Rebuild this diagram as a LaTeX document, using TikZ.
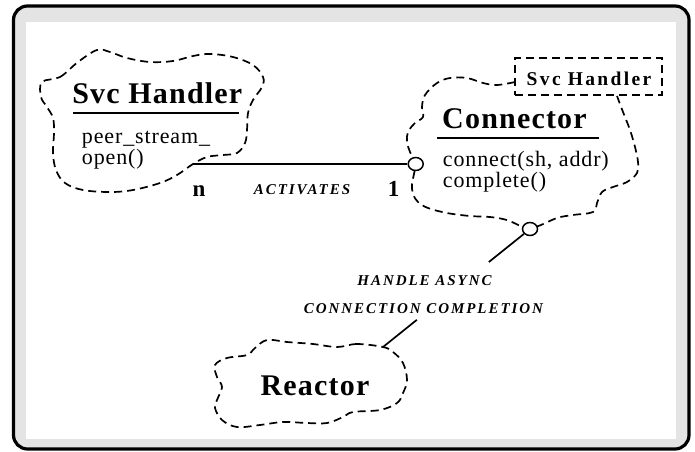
\documentclass[tikz,border=0pt]{standalone}
\usepackage{fontspec}
\setmainfont{Liberation Serif}
\newfontfamily\wideA[LetterSpace=4.0]{Liberation Serif}
\newfontfamily\wideB[LetterSpace=12.0]{Liberation Serif}
\newfontfamily\wideC[LetterSpace=13.0]{Liberation Serif}
\newfontfamily\wideD[LetterSpace=4.0]{Liberation Serif}
\usetikzlibrary{shapes.geometric,calc}
\definecolor{framegray}{RGB}{228,228,228}
\tikzset{
  cloudline/.style={line width=1.7pt, dash pattern=on 8pt off 5pt, line join=round},
  link/.style={line width=1.7pt},
  rule/.style={line width=1.9pt},
  port/.style={ellipse, draw, fill=white, line width=1.5pt, minimum width=15pt, minimum height=13pt, inner sep=0pt},
  titletext/.style={inner sep=0pt, font=\wideA\bfseries\fontsize{30}{30}\selectfont},
  boxtitle/.style={inner sep=0pt, font=\wideB\bfseries\fontsize{19.5}{20}\selectfont},
  member/.style={inner sep=0pt, anchor=base west, font=\wideD\fontsize{22}{20}\selectfont},
  mult/.style={inner sep=0pt, anchor=base, font=\bfseries\fontsize{23}{23}\selectfont},
  assoc/.style={inner sep=0pt, anchor=base, font=\wideC\bfseries\itshape\fontsize{15}{15}\selectfont},
  smallbox/.style={draw, line width=1.7pt, dash pattern=on 8pt off 5pt, minimum width=147pt, minimum height=37pt, inner sep=0pt}
}
\begin{document}
\begin{tikzpicture}[x=1pt,y=-1pt]
\useasboundingbox (0,0) rectangle (695,451);
% frame
\draw[line width=3.2pt, fill=framegray, rounded corners=14pt] (13.5,6) rectangle (689,449);
\fill[white] (26,22) rectangle (676,439);

% ports on the clouds
\coordinate (sh-port) at (193,164);
\coordinate (re-port) at (383,347);

% Svc Handler class cloud
\draw[cloudline] plot[smooth cycle, tension=0.6] coordinates {
  (42,82) (60,77) (78,62) (97,50) (110,52) (127,58) (150,62) (173,61)
  (193,56) (210,54) (233,57) (253,65) (263,77) (262,87) (253,100)
  (248,113) (247,130) (245,143) (237,153) (223,155) (207,157) (193,164)
  (177,175) (160,183) (133,190) (110,192) (83,190) (65,183) (56,170)
  (53,153) (54,133) (53,118) (47,107) (41,97)};

% Connector class cloud (open behind the template box)
\draw[cloudline] plot[smooth, tension=0.6] coordinates {
  (515,82) (497,85) (483,83) (467,78) (450,78) (437,83) (425,95)
  (422,107) (423,117) (415,123) (408,132) (407,142) (410,152) (415,164)
  (414,174) (412,184) (413,194) (418,202) (428,208) (447,213) (470,216)
  (490,217) (507,220) (530,228) (557,218) (573,215) (593,212) (597,203)
  (602,192) (613,187) (627,182) (637,173) (638,162) (635,147) (630,130)
  (623,112) (617,96)};

% Reactor class cloud
\draw[cloudline] plot[smooth cycle, tension=0.6] coordinates {
  (383,347) (357,344) (337,347) (313,344) (287,342) (267,340) (255,348)
  (247,355) (227,358) (215,365) (217,377) (222,387) (217,400) (215,408)
  (222,420) (237,427) (260,425) (283,422) (307,423) (327,423) (343,417)
  (353,412) (380,410) (397,403) (403,393) (407,380) (403,363) (393,352)};

% template parameter box
\node[smallbox, fill=white] (sh-box) at (588.7,76.7) {};
\node[boxtitle, anchor=base] (sh-box-text) at (589,85) {Svc Handler};

% interface ports
\node[port] (act-port) at (415.7,164) {};
\node[port] (cmp-port) at (530,229) {};

% Svc Handler contents
\node[titletext, anchor=base] (sh-title) at (157.3,103.3) {Svc Handler};
\draw[rule] (73,112.7) -- (239,112.7);
\node[member] (sh-m1) at (81.7,143) {peer\_stream\_};
\node[member] (sh-m2) at (81.7,164) {open()};

% Connector contents
\node[titletext, anchor=base] (co-title) at (514.5,128.3) {Connector};
\draw[rule] (437,138.3) -- (599,138.3);
\node[member] (co-m1) at (442.7,166) {connect(sh, addr)};
\node[member] (co-m2) at (442.7,187) {complete()};

% Reactor contents
\node[titletext, anchor=base] (re-title) at (315,395.7) {Reactor};

% activation association
\draw[link] (sh-port) -- (act-port);
\node[mult] (mult-n) at (199,196.7) {n};
\node[mult] (mult-1) at (393.5,196.7) {1};
\node[assoc] (act-label) at (302,194) {ACTIVATES};

% completion association, broken around its label
\draw[link] (cmp-port) -- ($(cmp-port)!0.28!(re-port)$)
            ($(cmp-port)!0.77!(re-port)$) -- (re-port);
\node[assoc] (cmp-label1) at (424.5,285) {HANDLE ASYNC};
\node[assoc] (cmp-label2) at (423.5,313) {CONNECTION COMPLETION};
\end{tikzpicture}
\end{document}
